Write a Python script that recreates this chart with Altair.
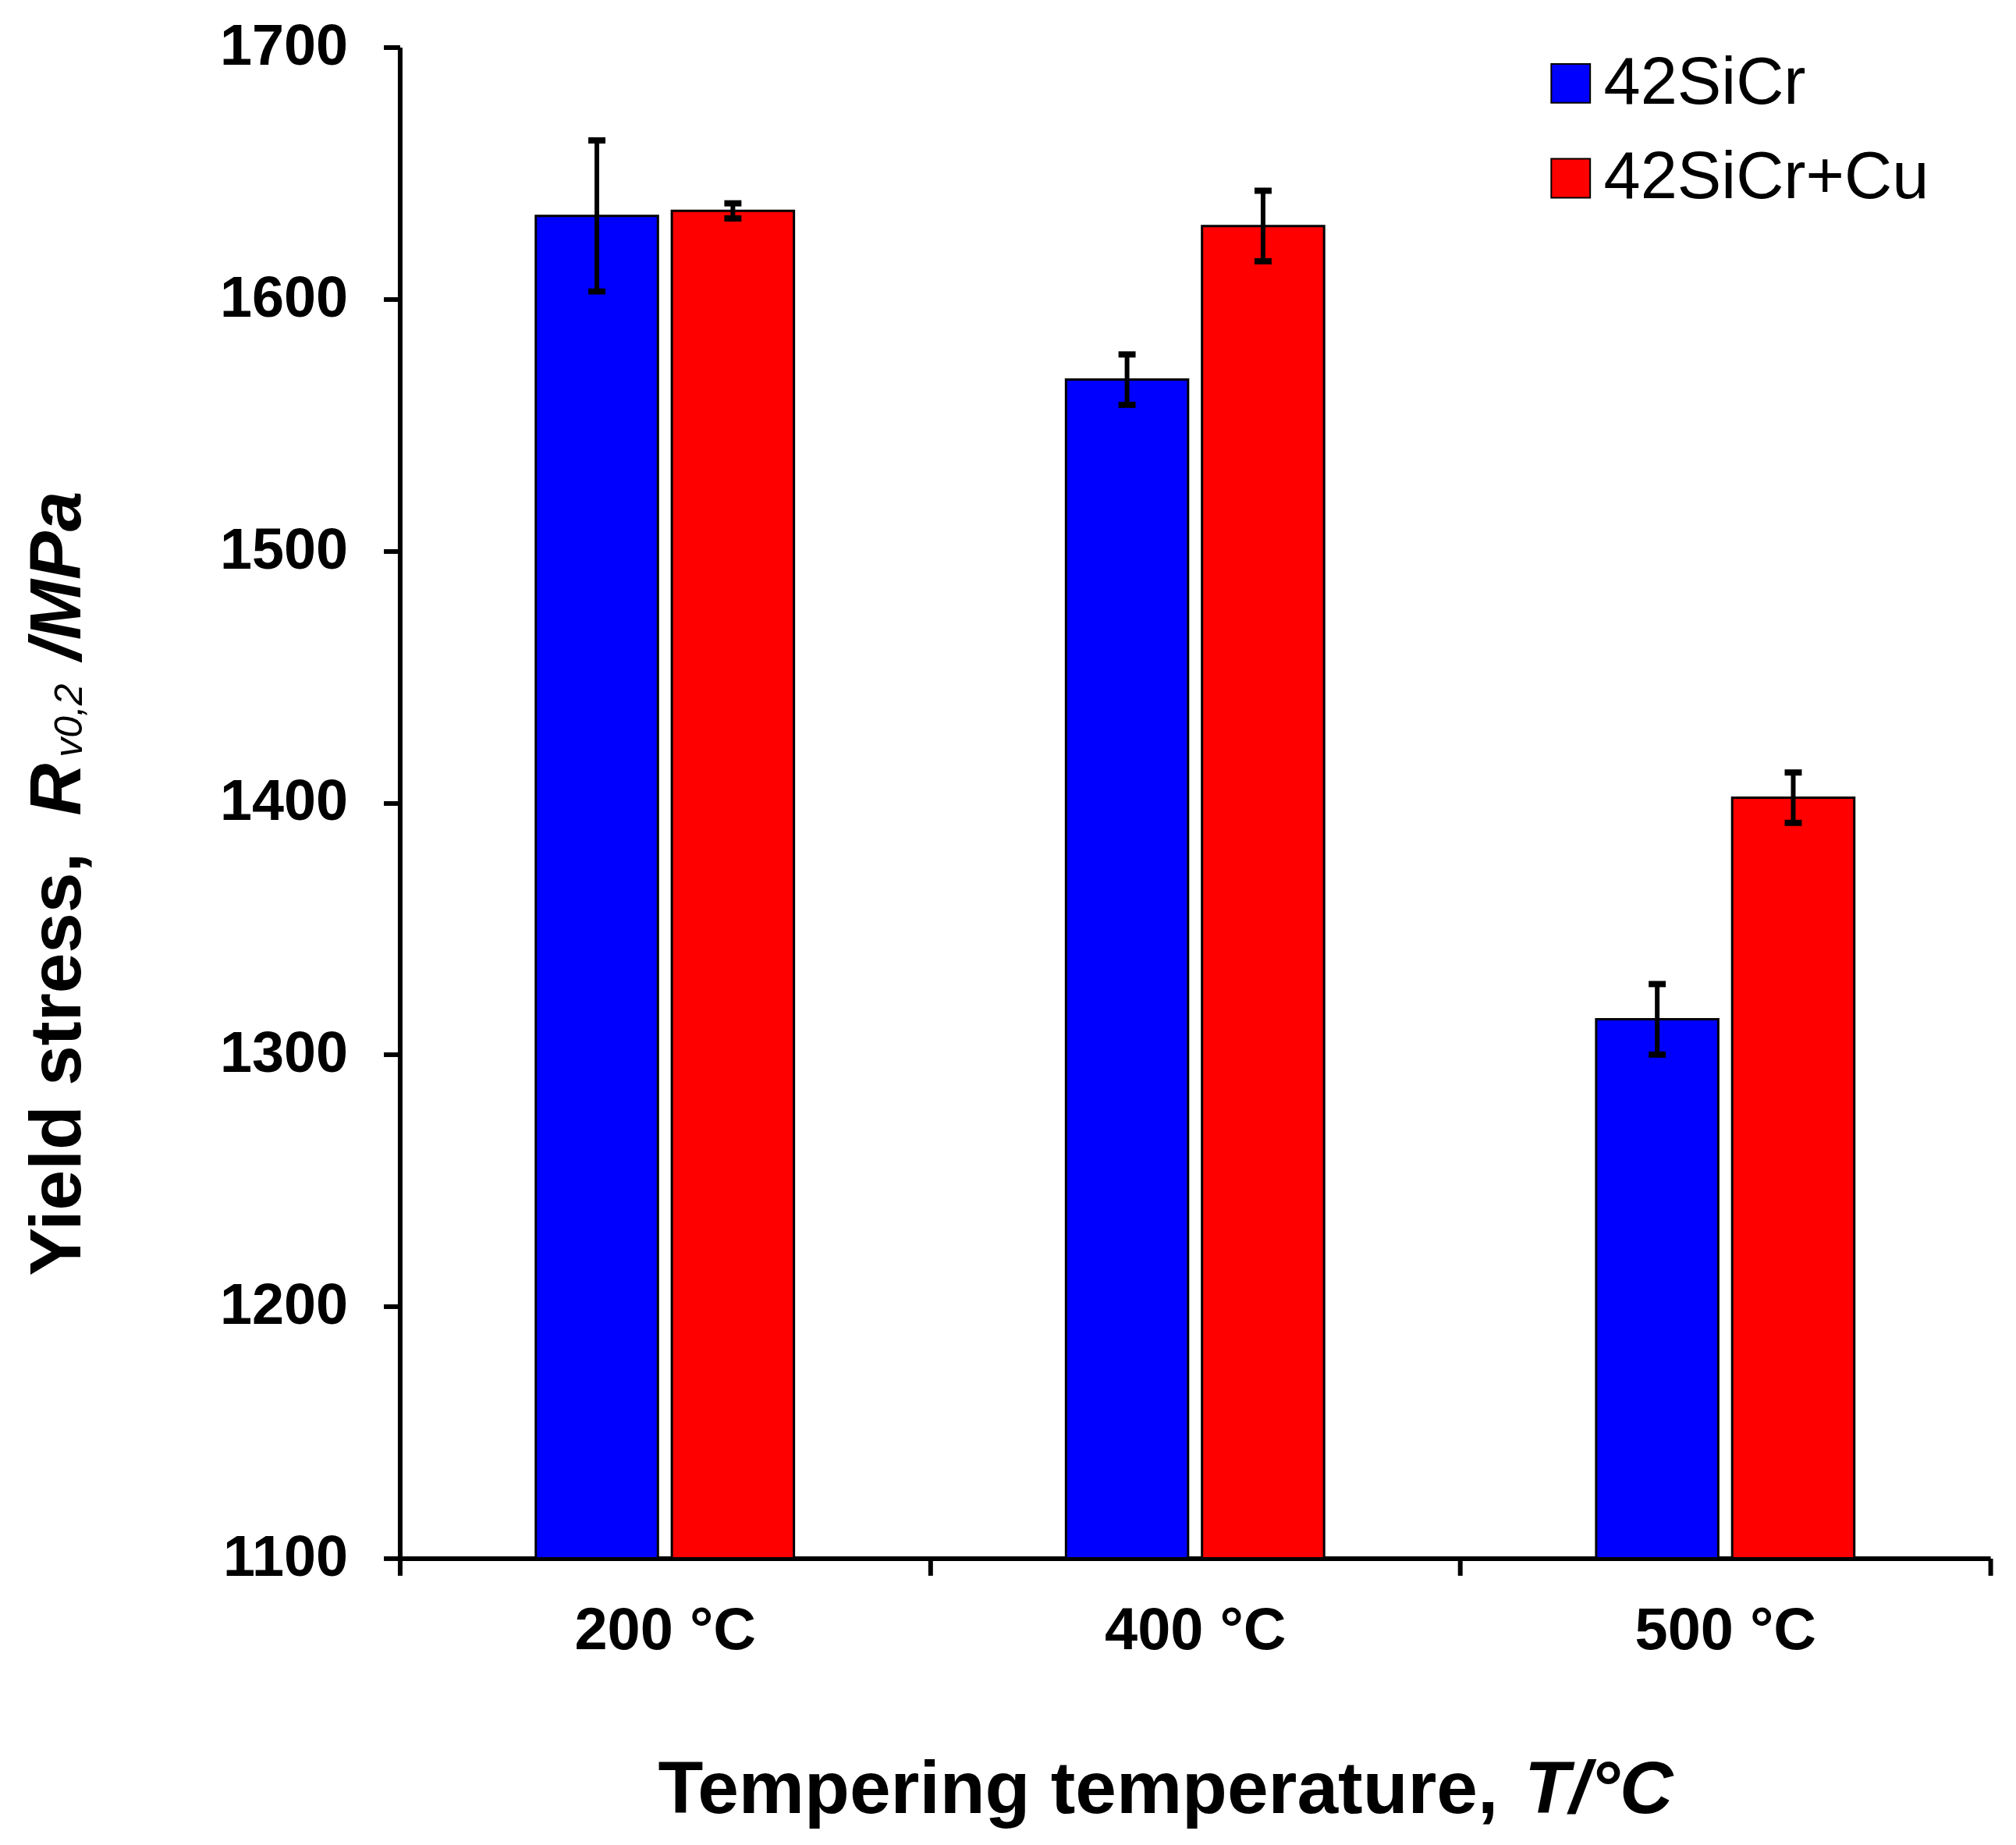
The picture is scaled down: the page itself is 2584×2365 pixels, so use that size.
import altair as alt
import pandas as pd

# ---- data ----
temps = ["200 °C", "400 °C", "500 °C"]
alloys = ["42SiCr", "42SiCr+Cu"]
sicr = [1633, 1568, 1314]
sicr_err = [30, 10, 14]
sicr_cu = [1635, 1629, 1402]
sicr_cu_err = [3, 14, 10]
colors = ["#0000FF", "#FF0000"]
y_ticks = [1100, 1200, 1300, 1400, 1500, 1600, 1700]
x_title_parts = ["Tempering temperature,", "T/°C"]
y_title_parts = ["Yield stress,", "R", "v0,2", "/MPa"]

rows = []
for i, t in enumerate(temps):
    rows.append({"temp": t, "alloy": alloys[0], "value": sicr[i], "err": sicr_err[i]})
    rows.append({"temp": t, "alloy": alloys[1], "value": sicr_cu[i], "err": sicr_cu_err[i]})
df = pd.DataFrame(rows)

FONT = "Liberation Sans"

base = alt.Chart(df).transform_calculate(
    lo="datum.value - datum.err", hi="datum.value + datum.err"
).encode(
    x=alt.X(
        "temp:N", sort=temps,
        scale=alt.Scale(paddingInner=0, paddingOuter=0),
        axis=alt.Axis(
            title=None, labelAngle=0, labelFont=FONT, labelFontSize=76,
            labelFontWeight="bold", labelColor="black", tickBand="extent",
            tickSize=22, tickWidth=6, tickColor="black", domainWidth=6,
            domainColor="black", labelPadding=34, grid=False, labelLimit=0,
        ),
    ),
    xOffset=alt.XOffset(
        "alloy:N", sort=alloys,
        scale=alt.Scale(paddingInner=0.1023, paddingOuter=1),
    ),
)

yscale = alt.Scale(domain=[1100, 1700], zero=False, nice=False)

bars = base.mark_bar(stroke="black", strokeWidth=3).encode(
    y=alt.Y(
        "value:Q", scale=yscale,
        axis=alt.Axis(
            title=None, values=y_ticks, format="d", labelFont=FONT,
            labelFontSize=74, labelFontWeight="bold", labelColor="black",
            tickSize=21, tickWidth=6, tickColor="black", domainWidth=6,
            domainColor="black", labelPadding=46, grid=False, labelLimit=0,
        ),
    ),
    y2=alt.datum(1100),
    color=alt.Color(
        "alloy:N",
        scale=alt.Scale(domain=alloys, range=colors),
        legend=alt.Legend(
            title=None, orient="none", legendX=1463, legendY=4,
            symbolType="square", symbolSize=2500, symbolStrokeColor="black",
            symbolStrokeWidth=2, symbolOpacity=1, labelFont=FONT,
            labelFontSize=85, labelColor="black", rowPadding=36,
            labelOffset=0, padding=0, labelLimit=0,
        ),
    ),
)

err_line = base.mark_rule(color="black", strokeWidth=6).encode(
    y=alt.Y("lo:Q", scale=yscale), y2="hi:Q"
)
cap_lo = base.mark_tick(color="black", size=22, thickness=8, opacity=1).encode(
    y=alt.Y("lo:Q", scale=yscale)
)
cap_hi = base.mark_tick(color="black", size=22, thickness=8, opacity=1).encode(
    y=alt.Y("hi:Q", scale=yscale)
)


def label(text, x, y, size, weight="bold", style="normal", angle=0):
    kw = dict(font=FONT, fontSize=size, fontWeight=weight, fontStyle=style,
              align="left", baseline="alphabetic", color="black", limit=0)
    if angle:
        kw["angle"] = angle
    return alt.Chart(pd.DataFrame({"t": [text]})).mark_text(**kw).encode(
        text="t:N", x=alt.value(x), y=alt.value(y)
    )


xt1 = label(x_title_parts[0], 332, 2271, 95)
xt2 = label(x_title_parts[1], 1446, 2271, 95, style="italic")
yt1 = label(y_title_parts[0], -411, 1580, 93, angle=270)
yt2 = label(y_title_parts[1], -411, 988, 93, style="italic", angle=270)
yt3 = label(y_title_parts[2], -409, 913, 50, weight="normal", style="italic", angle=270)
yt4 = label(y_title_parts[3], -411, 788, 93, style="italic", angle=270)

chart = alt.layer(
    bars, err_line, cap_lo, cap_hi, xt1, xt2, yt1, yt2, yt3, yt4
).properties(
    width=2045, height=1943,
    autosize=alt.AutoSizeParams(type="none"),
    padding={"left": 506, "top": 49, "right": 25, "bottom": 350},
    background="white",
).configure_view(stroke=None)

chart.save("out.html", embed_options={"renderer": "svg", "actions": False})
